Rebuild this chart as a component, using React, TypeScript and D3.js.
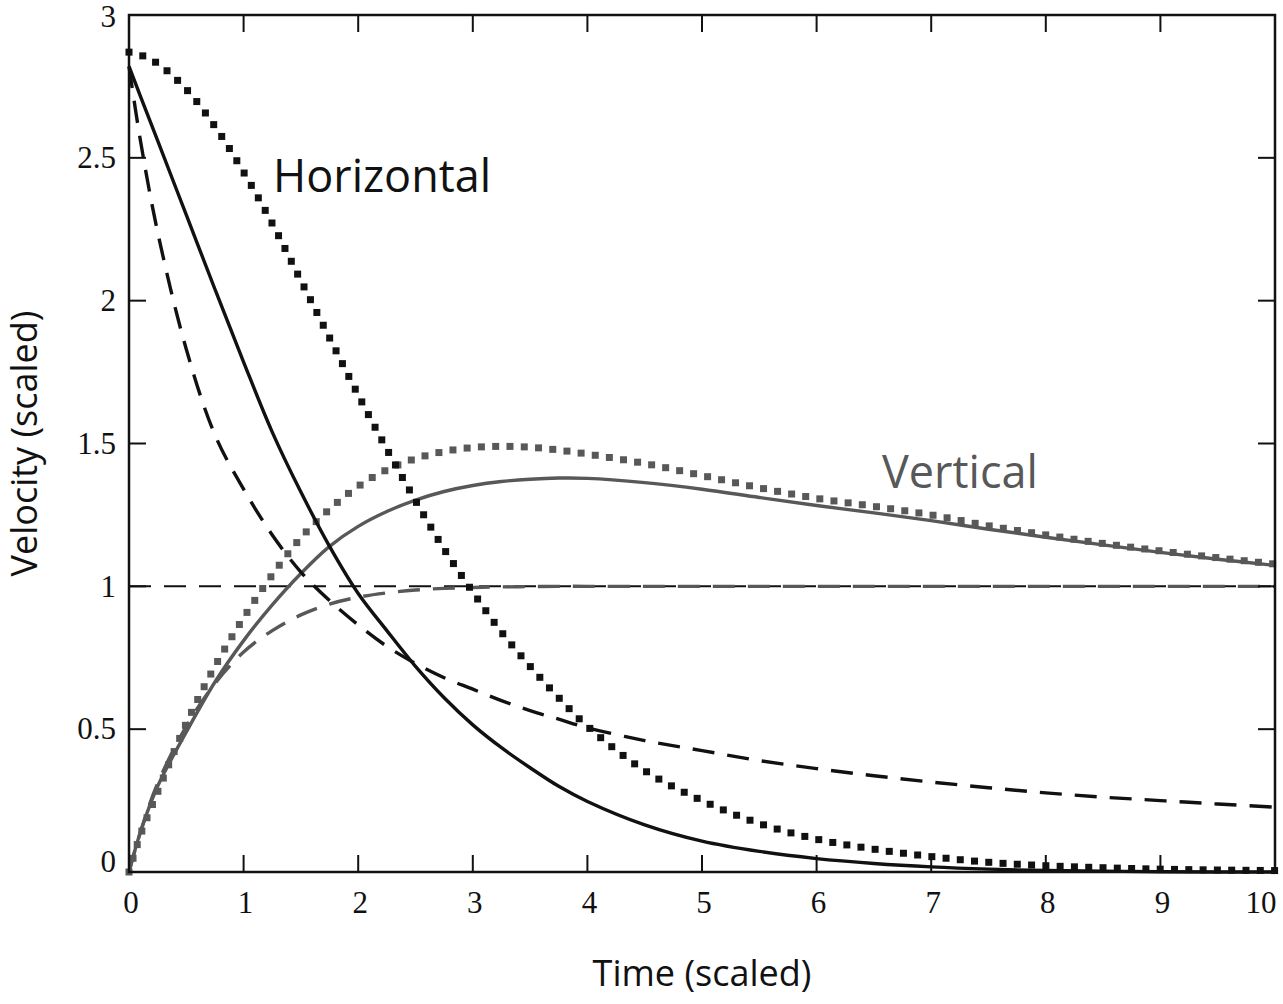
import React, { useEffect, useRef } from 'react';
import * as d3 from 'd3';

// Time grid (scaled)
const time = [0, 0.1, 0.25, 0.5, 0.75, 1, 1.25, 1.5, 1.75, 2, 2.25, 2.5, 2.75, 3, 3.25, 3.5, 3.75, 4, 4.5, 5, 5.5, 6, 6.5, 7, 7.5, 8, 8.5, 9, 9.5, 10];

// Horizontal velocity (black)
const hSolid = [2.82, 2.715, 2.56, 2.30, 2.04, 1.785, 1.54, 1.33, 1.14, 0.975, 0.845, 0.72, 0.61, 0.515, 0.435, 0.365, 0.30, 0.247, 0.165, 0.108, 0.072, 0.047, 0.03, 0.018, 0.01, 0.005, 0.003, 0.001, 0, 0];
const hDashed = [2.82, 2.56, 2.24, 1.83, 1.53, 1.34, 1.18, 1.05, 0.95, 0.865, 0.79, 0.73, 0.68, 0.64, 0.60, 0.565, 0.535, 0.505, 0.46, 0.425, 0.39, 0.362, 0.337, 0.315, 0.295, 0.277, 0.262, 0.25, 0.238, 0.227];
const hDotted = [2.87, 2.86, 2.83, 2.74, 2.61, 2.45, 2.27, 2.07, 1.87, 1.67, 1.48, 1.30, 1.13, 0.98, 0.84, 0.72, 0.61, 0.51, 0.355, 0.25, 0.17, 0.115, 0.08, 0.054, 0.034, 0.022, 0.015, 0.01, 0.007, 0.005];

// Vertical velocity (grey)
const vSolid = [0, 0.14, 0.30, 0.49, 0.665, 0.81, 0.935, 1.045, 1.14, 1.21, 1.262, 1.302, 1.332, 1.353, 1.367, 1.375, 1.379, 1.378, 1.363, 1.34, 1.311, 1.283, 1.257, 1.23, 1.2, 1.172, 1.145, 1.119, 1.095, 1.073];
const vDotted = [0, 0.13, 0.28, 0.52, 0.72, 0.89, 1.04, 1.17, 1.27, 1.35, 1.408, 1.447, 1.472, 1.486, 1.49, 1.487, 1.477, 1.463, 1.43, 1.388, 1.345, 1.308, 1.28, 1.25, 1.212, 1.18, 1.15, 1.124, 1.1, 1.078];
const vDashed = [0, 0.14, 0.31, 0.51, 0.66, 0.77, 0.845, 0.9, 0.938, 0.962, 0.977, 0.987, 0.993, 0.996, 0.998, 0.999, 1, 1, 1, 1, 1, 1, 1, 1, 1, 1, 1, 1, 1, 1];

// Terminal velocity reference
const refLevel = 1;

const xTicks = [0, 1, 2, 3, 4, 5, 6, 7, 8, 9, 10];
const yTicks = [0, 0.5, 1, 1.5, 2, 2.5, 3];
const yTickLabels = ['0', '0.5', '1', '1.5', '2', '2.5', '3'];

export default function App() {
  const ref = useRef<SVGSVGElement>(null);

  useEffect(() => {
    const svg = d3.select(ref.current);
    svg.selectAll('*').remove();
    const left = 129, right = 1275, top = 15, bottom = 872;
    const x = d3.scaleLinear().domain([0, 10]).range([left, right]);
    const y = d3.scaleLinear().domain([0, 3]).range([bottom, top]);
    const BLACK = '#111111';
    const GREY = '#585858';
    const line = d3.line<[number, number]>().x(d => x(d[0])).y(d => y(d[1])).curve(d3.curveCatmullRom.alpha(0.5));
    const pts = (vals: number[]) => time.map((t, i) => [t, vals[i]] as [number, number]);

    const g = svg.append('g');

    // reference line at terminal velocity
    g.append('line')
      .attr('x1', x(0)).attr('x2', x(10))
      .attr('y1', y(refLevel)).attr('y2', y(refLevel))
      .attr('stroke', BLACK).attr('stroke-width', 2).attr('stroke-dasharray', '22,13');

    const drawLine = (vals: number[], color: string, dash: string | null, w = 3.4) => {
      const p = g.append('path').attr('d', line(pts(vals)))
        .attr('fill', 'none').attr('stroke', color).attr('stroke-width', w);
      if (dash) p.attr('stroke-dasharray', dash);
    };
    const drawDots = (vals: number[], color: string) => {
      const p = g.append('path').attr('d', line(pts(vals))).attr('fill', 'none').attr('stroke', 'none');
      const node = p.node() as SVGPathElement;
      const L = node.getTotalLength();
      const step = 14.3;
      const sz = 7;
      for (let s = 0; s <= L; s += step) {
        const pt = node.getPointAtLength(s);
        g.append('rect').attr('x', pt.x - sz / 2).attr('y', pt.y - sz / 2)
          .attr('width', sz).attr('height', sz).attr('fill', color);
      }
      p.remove();
    };

    // vertical (grey)
    drawLine(vDashed, GREY, '22,13');
    drawLine(vSolid, GREY, null);
    drawDots(vDotted, GREY);

    // horizontal (black)
    drawLine(hDashed, BLACK, '22,13');
    drawLine(hSolid, BLACK, null);
    drawDots(hDotted, BLACK);

    // frame
    svg.append('rect').attr('x', left).attr('y', top).attr('width', right - left).attr('height', bottom - top)
      .attr('fill', 'none').attr('stroke', BLACK).attr('stroke-width', 2.5);

    const tl = 17;
    const ticks = svg.append('g').attr('stroke', BLACK).attr('stroke-width', 2);
    xTicks.forEach(t => {
      ticks.append('line').attr('x1', x(t)).attr('x2', x(t)).attr('y1', bottom).attr('y2', bottom - tl);
      ticks.append('line').attr('x1', x(t)).attr('x2', x(t)).attr('y1', top).attr('y2', top + tl);
    });
    yTicks.forEach(v => {
      ticks.append('line').attr('x1', left).attr('x2', left + tl).attr('y1', y(v)).attr('y2', y(v));
      ticks.append('line').attr('x1', right).attr('x2', right - tl).attr('y1', y(v)).attr('y2', y(v));
    });

    const serif = '"Liberation Serif", "Times New Roman", serif';
    xTicks.forEach(t => {
      svg.append('text').attr('x', Math.min(x(t) + 2, right - 14)).attr('y', 913)
        .attr('text-anchor', 'middle').attr('font-family', serif).attr('font-size', 31).attr('fill', BLACK)
        .text(String(t));
    });
    yTicks.forEach((v, i) => {
      svg.append('text').attr('x', left - 13).attr('y', Math.max(Math.min(y(v), bottom - 10), top + 2))
        .attr('dy', '0.33em')
        .attr('text-anchor', 'end').attr('font-family', serif).attr('font-size', 31).attr('fill', BLACK)
        .text(yTickLabels[i]);
    });

    const sans = '"Open Sans", "Noto Sans", sans-serif';
    svg.append('text').attr('x', (left + right) / 2).attr('y', 986).attr('text-anchor', 'middle')
      .attr('font-family', sans).attr('font-size', 36).attr('fill', BLACK).text('Time (scaled)');
    svg.append('text').attr('transform', `translate(37, ${(top + bottom) / 2}) rotate(-90)`).attr('text-anchor', 'middle')
      .attr('font-family', sans).attr('font-size', 36).attr('fill', BLACK).text('Velocity (scaled)');

    svg.append('text').attr('x', 273).attr('y', 192).attr('font-family', sans).attr('font-size', 45)
      .attr('fill', BLACK).text('Horizontal');
    svg.append('text').attr('x', 882).attr('y', 488).attr('font-family', sans).attr('font-size', 45)
      .attr('fill', GREY).text('Vertical');
  }, []);

  return (
    <svg ref={ref} width={1283} height={1004}
      style={{ position: 'absolute', left: 0, top: 0, display: 'block', background: '#fff' }} />
  );
}
